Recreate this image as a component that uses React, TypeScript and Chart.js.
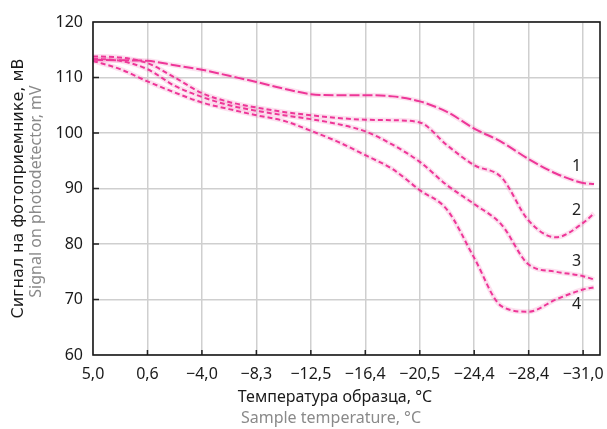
import React, { useEffect, useRef } from "react";
import { Chart, registerables } from "chart.js";

Chart.register(...registerables);

// Category tick labels (sample temperature, °C)
const tempLabels = ["5,0", "0,6", "−4,0", "−8,3", "−12,5", "−16,4", "−20,5", "−24,4", "−28,4", "−31,0"];
// Positions along the temperature axis (in tick-index units) where the curves are sampled
const tempIndex = [0, 0.5, 1, 1.5, 2, 2.5, 3, 3.5, 4, 4.5, 5, 5.5, 6, 6.5, 7, 7.5, 8, 8.5, 9, 9.2];

// Signal on photodetector, mV
const curve1 = [113.2, 113.1, 113.0, 112.2, 111.4, 110.3, 109.2, 108.0, 107.0, 106.8, 106.8, 106.6, 105.7, 103.8, 100.8, 98.4, 95.3, 92.7, 91.0, 90.8];
const curve2 = [113.8, 113.6, 112.6, 110.0, 107.2, 105.6, 104.6, 103.8, 103.2, 102.7, 102.4, 102.3, 101.9, 97.8, 94.2, 92.0, 84.2, 81.2, 83.8, 85.5];
const curve3 = [113.4, 113.0, 111.5, 108.5, 106.5, 105.0, 104.0, 103.2, 102.5, 101.6, 100.3, 97.9, 94.8, 90.6, 87.2, 83.5, 76.3, 75.0, 74.2, 73.6];
const curve4 = [113.0, 111.5, 109.3, 107.3, 105.5, 104.3, 103.2, 102.2, 100.4, 98.4, 96.0, 93.5, 89.7, 86.2, 77.5, 68.8, 67.8, 70.0, 71.8, 72.2];

const curveNames = ["1", "2", "3", "4"];
const curveLabelValues = [93.9, 86.1, 76.8, 69.2];
const curveLabelIndex = 8.88;

const yTicks = [60, 70, 80, 90, 100, 110, 120];

const PINK = "#ee2f95";
const HAZE = "rgba(240, 90, 165, 0.18)";

const decorPlugin = {
  id: "decor",
  afterDraw(chart: any) {
    const { ctx, chartArea, scales } = chart;
    const x = scales.x;
    const y = scales.y;
    ctx.save();
    // inward ticks
    ctx.strokeStyle = "#222";
    ctx.lineWidth = 1.5;
    ctx.beginPath();
    for (let i = 1; i < tempLabels.length; i++) {
      const px = x.getPixelForValue(i);
      ctx.moveTo(px, chartArea.bottom);
      ctx.lineTo(px, chartArea.bottom - 5);
    }
    for (const v of yTicks.slice(1, -1)) {
      const py = y.getPixelForValue(v);
      ctx.moveTo(chartArea.left, py);
      ctx.lineTo(chartArea.left + 6, py);
    }
    ctx.stroke();
    // frame
    ctx.lineWidth = 1.6;
    ctx.strokeStyle = "#1a1a1a";
    ctx.strokeRect(chartArea.left, chartArea.top, chartArea.right - chartArea.left, chartArea.bottom - chartArea.top);

    // curve labels
    ctx.fillStyle = "#222";
    ctx.font = "16px 'Noto Sans'";
    ctx.textAlign = "center";
    ctx.textBaseline = "middle";
    curveNames.forEach((n, i) => {
      ctx.fillText(n, x.getPixelForValue(curveLabelIndex), y.getPixelForValue(curveLabelValues[i]));
    });

    // x axis titles
    ctx.fillStyle = "#1a1a1a";
    ctx.fillText("Температура образца, °C", 335, 397);
    ctx.fillStyle = "#8a8a8a";
    ctx.fillText("Sample temperature, °C", 331, 418);

    // y axis titles
    const cy = (chartArea.top + chartArea.bottom) / 2;
    ctx.translate(19, cy);
    ctx.rotate(-Math.PI / 2);
    ctx.fillStyle = "#1a1a1a";
    ctx.font = "16px 'DejaVu Sans'";
    ctx.fillText("Сигнал на фотоприемнике, мВ", 0, 0);
    ctx.fillStyle = "#8a8a8a";
    ctx.font = "16px 'Noto Sans'";
    ctx.fillText("Signal on photodetector, mV", -3, 17);
    ctx.restore();
  },
};

function makeSeries(values: number[], dash: number[]) {
  const data = tempIndex.map((t, i) => ({ x: t, y: values[i] }));
  return [
    {
      data,
      borderColor: HAZE,
      borderWidth: 5,
      pointRadius: 0,
      cubicInterpolationMode: "monotone" as const,
      fill: false,
    },
    {
      data,
      borderColor: PINK,
      borderWidth: 2,
      borderDash: dash,
      pointRadius: 0,
      cubicInterpolationMode: "monotone" as const,
      fill: false,
    },
  ];
}

export default function App() {
  const ref = useRef<HTMLCanvasElement>(null);
  useEffect(() => {
    if (!ref.current) return;
    const chart = new Chart(ref.current, {
      type: "line",
      data: {
        datasets: [
          ...makeSeries(curve1, [10, 3]),
          ...makeSeries(curve2, [5, 3]),
          ...makeSeries(curve3, [5, 3]),
          ...makeSeries(curve4, [5, 3]),
        ],
      },
      options: {
        responsive: false,
        animation: false,
        events: [],
        layout: { padding: { top: 22, right: 7, left: 0, bottom: 0 } },
        plugins: { legend: { display: false }, tooltip: { enabled: false } },
        scales: {
          x: {
            type: "linear",
            min: 0,
            max: 9.31,
            afterBuildTicks: (axis: any) => {
              axis.ticks = tempLabels.map((_, i) => ({ value: i }));
            },
            afterFit: (scale: any) => {
              scale.height = 74;
              scale.paddingLeft = 0;
              scale.paddingRight = 0;
            },
            ticks: {
              autoSkip: false,
              maxRotation: 0,
              padding: 10,
              color: "#1a1a1a",
              font: { family: "'Noto Sans'", size: 16 },
              callback: (v: any) => tempLabels[Math.round(v)] ?? "",
            },
            grid: { color: "#cfcfcf", lineWidth: 1.5, drawTicks: false },
            border: { display: false },
          },
          y: {
            min: 60,
            max: 120,
            afterBuildTicks: (axis: any) => {
              axis.ticks = yTicks.map((v) => ({ value: v }));
            },
            afterFit: (scale: any) => {
              scale.width = 93;
              scale.paddingTop = 0;
              scale.paddingBottom = 0;
            },
            ticks: {
              padding: 10,
              color: "#1a1a1a",
              font: { family: "'Noto Sans'", size: 16 },
            },
            grid: { color: "#cfcfcf", lineWidth: 1.5, drawTicks: false },
            border: { display: false },
          },
        },
      },
      plugins: [decorPlugin],
    });
    return () => chart.destroy();
  }, []);
  return (
    <div style={{ position: "fixed", left: 0, top: 0, width: 607, height: 429, background: "#fff" }}>
      <canvas ref={ref} width={607} height={429} />
    </div>
  );
}
